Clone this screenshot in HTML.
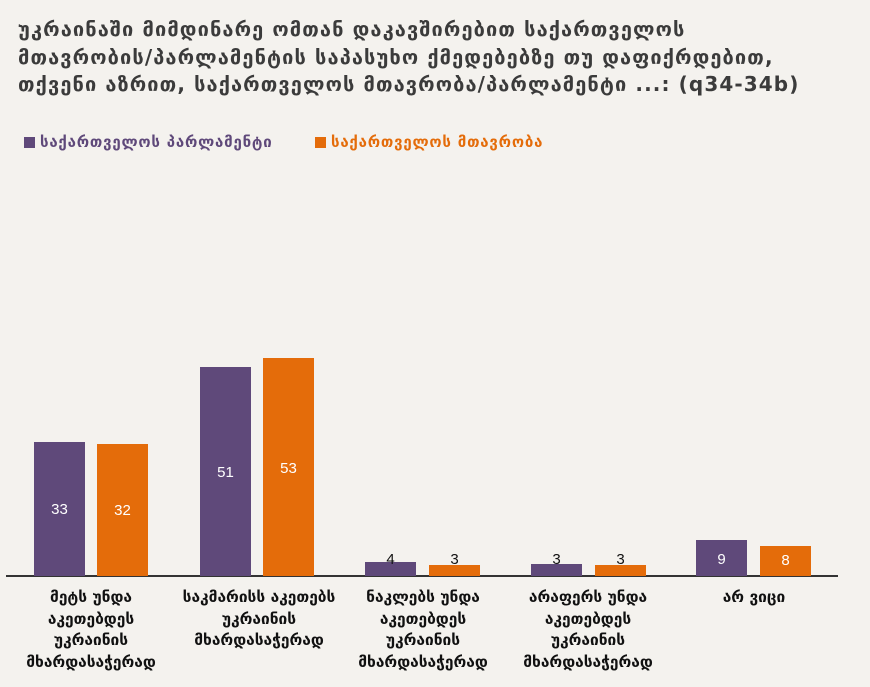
<!DOCTYPE html>
<html><head><meta charset="utf-8"><style>
body{margin:0;width:870px;height:687px;background:#f4f2ee;position:relative;overflow:hidden;font-family:"DejaVu Sans","Liberation Sans",sans-serif;}
.t{position:absolute;left:18px;top:16px;font-size:20px;font-weight:bold;color:#3b3b3b;line-height:27.5px;letter-spacing:1.1px;white-space:nowrap}
.lg{position:absolute;top:133px;font-size:15px;font-weight:bold;letter-spacing:0.8px;white-space:nowrap}
.lg i{display:inline-block;width:11px;height:11px;margin-right:5px;vertical-align:-1px}
.b{position:absolute;width:51px;bottom:111px}
.p{background:#5f497a}.o{background:#e46c0a}
.v{position:absolute;width:51px;text-align:center;font-size:15px;font-family:"Liberation Sans",sans-serif}
.ax{position:absolute;left:6px;top:575px;width:832px;height:2px;background:#333}
.c{position:absolute;top:587px;width:166px;text-align:center;font-size:15.5px;font-weight:bold;line-height:21.7px;color:#111}
</style></head><body>
<div class="t">უკრაინაში მიმდინარე ომთან დაკავშირებით საქართველოს<br>მთავრობის/პარლამენტის საპასუხო ქმედებებზე თუ დაფიქრდებით,<br>თქვენი აზრით, საქართველოს მთავრობა/პარლამენტი ...: (q34-34b)</div>
<div class="lg" style="left:24px;color:#5f497a"><i class="p"></i>საქართველოს პარლამენტი</div>
<div class="lg" style="left:315px;color:#e46c0a"><i class="o"></i>საქართველოს მთავრობა</div>
<div class="ax"></div>
<div class="b p" style="left:34px;top:442px"></div><div class="b o" style="left:97px;top:444px"></div>
<div class="b p" style="left:200px;top:367px"></div><div class="b o" style="left:263px;top:358px"></div>
<div class="b p" style="left:365px;top:562px"></div><div class="b o" style="left:429px;top:565px"></div>
<div class="b p" style="left:531px;top:564px"></div><div class="b o" style="left:595px;top:565px"></div>
<div class="b p" style="left:696px;top:540px"></div><div class="b o" style="left:760px;top:546px"></div>
<div class="v" style="left:34px;top:501px;color:#fff">33</div><div class="v" style="left:97px;top:502px;color:#fff">32</div>
<div class="v" style="left:200px;top:464px;color:#fff">51</div><div class="v" style="left:263px;top:460px;color:#fff">53</div>
<div class="v" style="left:365px;top:551px;color:#111">4</div><div class="v" style="left:429px;top:551px;color:#111">3</div>
<div class="v" style="left:531px;top:551px;color:#111">3</div><div class="v" style="left:595px;top:551px;color:#111">3</div>
<div class="v" style="left:696px;top:551px;color:#fff">9</div><div class="v" style="left:760px;top:552px;color:#fff">8</div>
<div class="c" style="left:8px">მეტს უნდა<br>აკეთებდეს<br>უკრაინის<br>მხარდასაჭერად</div>
<div class="c" style="left:164px;width:190px">საკმარისს აკეთებს<br>უკრაინის<br>მხარდასაჭერად</div>
<div class="c" style="left:340px">ნაკლებს უნდა<br>აკეთებდეს<br>უკრაინის<br>მხარდასაჭერად</div>
<div class="c" style="left:505px">არაფერს უნდა<br>აკეთებდეს<br>უკრაინის<br>მხარდასაჭერად</div>
<div class="c" style="left:671px">არ ვიცი</div>
</body></html>
